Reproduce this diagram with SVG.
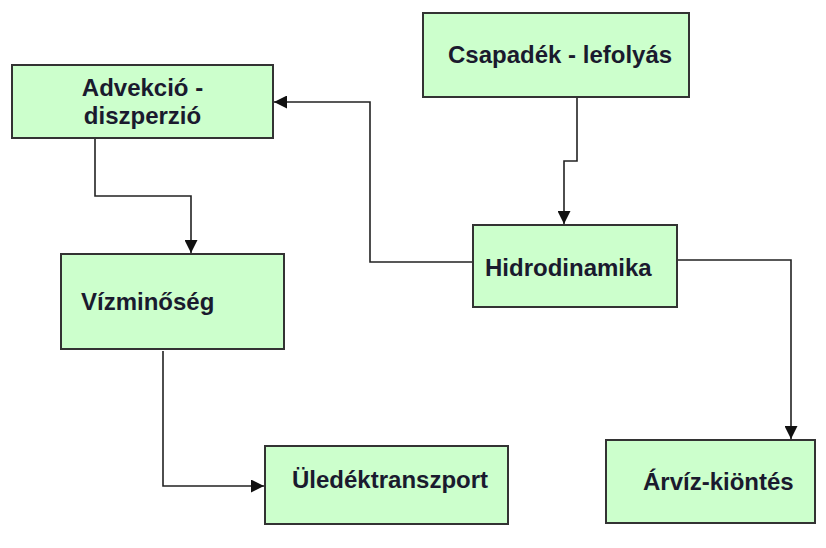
<svg xmlns="http://www.w3.org/2000/svg" width="826" height="548" viewBox="0 0 826 548">
<style>
.box{fill:#CCFFCC;stroke:#333333;stroke-width:2}
.lbl{font-family:"Liberation Sans",Arial,sans-serif;font-weight:bold;font-size:24px;fill:#1a1a2e}
.c{fill:none;stroke:#222222;stroke-width:1.6}
</style>
<defs>
<marker id="ah" markerWidth="13" markerHeight="13" refX="10" refY="5" orient="auto" markerUnits="userSpaceOnUse" viewBox="0 0 10 10">
<path d="M0,0 L10,5 L0,10 Z" fill="#111111"/>
</marker>
</defs>
<rect width="826" height="548" fill="#ffffff"/>
<g id="connectors">
<path class="c" d="M577,97 V161 H564 V224" marker-end="url(#ah)"/>
<path class="c" d="M473,262 H370 V102 H274" marker-end="url(#ah)"/>
<path class="c" d="M95,138 V196 H191 V253" marker-end="url(#ah)"/>
<path class="c" d="M163,351 V486 H264" marker-end="url(#ah)"/>
<path class="c" d="M677,260 H791 V439" marker-end="url(#ah)"/>
</g>
<g id="advekcio">
<rect class="box" x="12" y="65" width="261" height="73"/>
<text class="lbl" x="142.5" y="96" text-anchor="middle">Advekció -</text>
<text class="lbl" x="142.5" y="124" text-anchor="middle">diszperzió</text>
</g>
<g id="csapadek">
<rect class="box" x="423" y="13" width="266" height="84"/>
<text class="lbl" x="448" y="63">Csapadék - lefolyás</text>
</g>
<g id="hidrodinamika">
<rect class="box" x="473" y="225" width="204" height="82"/>
<text class="lbl" x="485" y="276">Hidrodinamika</text>
</g>
<g id="vizminoseg">
<rect class="box" x="61" y="254" width="223" height="95"/>
<text class="lbl" x="81" y="310">Vízminőség</text>
</g>
<g id="uledektranszport">
<rect class="box" x="265" y="446" width="243" height="78"/>
<text class="lbl" x="292" y="488">Üledéktranszport</text>
</g>
<g id="arviz">
<rect class="box" x="606" y="440" width="209" height="83"/>
<text class="lbl" x="643" y="490">Árvíz-kiöntés</text>
</g>
</svg>
